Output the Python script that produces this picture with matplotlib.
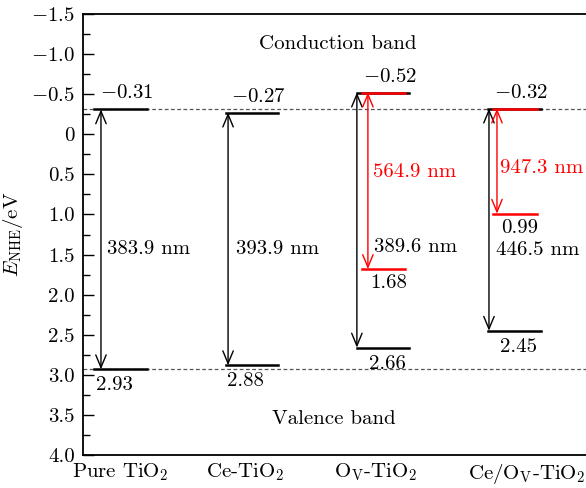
import numpy as np
import matplotlib
matplotlib.use('Agg')
import matplotlib.pyplot as plt
from matplotlib.ticker import MultipleLocator

plt.rcParams['font.family'] = 'cmr10'
plt.rcParams['mathtext.fontset'] = 'cm'
plt.rcParams['axes.formatter.use_mathtext'] = True
plt.rcParams['font.size'] = 15

# data
samples = ['Pure TiO$_2$', 'Ce-TiO$_2$', 'O$_\\mathrm{V}$-TiO$_2$', 'Ce/O$_\\mathrm{V}$-TiO$_2$']
cb = [-0.31, -0.27, -0.52, -0.32]
vb = [2.93, 2.88, 2.66, 2.45]
gap_nm = ['383.9 nm', '393.9 nm', '389.6 nm', '446.5 nm']
defect_idx = [2, 3]
defect_level = [1.68, 0.99]
defect_nm = ['564.9 nm', '947.3 nm']

# layout (offsets in category units)
arrow_dx = [-0.149, -0.181, -0.20, -0.194]
red_arrow_dx = [-0.116, -0.133]
gap_text = [(-0.103, 1.43), (0.88, 1.43), (1.93, 1.405), (2.86, 1.44)]
red_text = [(1.923, 0.47), (2.89, 0.42)]
tick_pos = [0, 0.95, 1.94, 3.096]
half = 0.2

fig = plt.figure(figsize=(5.86, 4.88), dpi=100)
ax = fig.add_axes([0.1416, 0.0676, 0.8584, 0.9037])
ax.set_xlim(-0.286, 3.545)
ax.set_ylim(4.0, -1.5)

# reference dashed lines
ax.axhline(cb[0], color='#555555', lw=0.9, ls=(0, (3, 2)), zorder=1)
ax.axhline(vb[0], color='#555555', lw=0.9, ls=(0, (3, 2)), zorder=1)

for i in range(4):
    ax.plot([i - half, i + half], [cb[i], cb[i]], color='k', lw=1.8, zorder=3)
    ax.plot([i - half, i + half], [vb[i], vb[i]], color='k', lw=1.8, zorder=3)
    x = i + arrow_dx[i]
    ax.annotate('', xy=(x, cb[i]), xytext=(x, vb[i]),
                arrowprops=dict(arrowstyle='<->,head_length=0.6,head_width=0.25',
                                color='k', lw=1.0, shrinkA=0, shrinkB=0), zorder=4)
    ax.text(i + 0.05, cb[i] - 0.2, '$-$' + '%.2f' % abs(cb[i]), ha='center', va='center')
    ax.text(i - 0.05 if i < 2 else i + 0.03, vb[i] + 0.2, '%.2f' % vb[i], ha='center', va='center')
    ax.text(gap_text[i][0], gap_text[i][1], gap_nm[i], ha='left', va='center')

for k, i in enumerate(defect_idx):
    ax.plot([i - half + 0.04, i + half - 0.03], [cb[i], cb[i]], color='red', lw=1.8, zorder=3.5)
    ax.plot([i - half + 0.04, i + half - 0.03], [defect_level[k], defect_level[k]],
            color='red', lw=1.8, zorder=3.5)
    x = i + red_arrow_dx[k]
    ax.annotate('', xy=(x, cb[i]), xytext=(x, defect_level[k]),
                arrowprops=dict(arrowstyle='<->,head_length=0.6,head_width=0.25',
                                color='red', lw=1.0, shrinkA=0, shrinkB=0), zorder=4)
    ax.text(i + 0.04, defect_level[k] + 0.18, '%.2f' % defect_level[k], ha='center', va='center')
    ax.text(red_text[k][0], red_text[k][1], defect_nm[k], ha='left', va='center', color='red')

ax.text(1.657, -1.125, 'Conduction band', ha='center', va='center')
ax.text(1.626, 3.55, 'Valence band', ha='center', va='center')

ax.set_xticks(tick_pos)
ax.set_xticklabels(samples)
ax.tick_params(axis='x', length=0, pad=5)
ax.yaxis.set_major_locator(MultipleLocator(0.5))
ax.yaxis.set_minor_locator(MultipleLocator(0.25))
ax.tick_params(axis='y', which='major', direction='in', length=8, width=1, pad=6)
ax.tick_params(axis='y', which='minor', direction='in', length=5, width=1)
ax.spines['right'].set_visible(False)
for s in ['left', 'top', 'bottom']:
    ax.spines[s].set_linewidth(1.3)
ax.yaxis.set_major_formatter(plt.FuncFormatter(
    lambda v, p: '0' if abs(v) < 1e-9 else ('$-$%.1f' % abs(v) if v < 0 else '%.1f' % v)))
ax.set_ylabel('$E_{\\mathrm{NHE}}$/eV', labelpad=4)

fig.savefig('out.png', dpi=100)
